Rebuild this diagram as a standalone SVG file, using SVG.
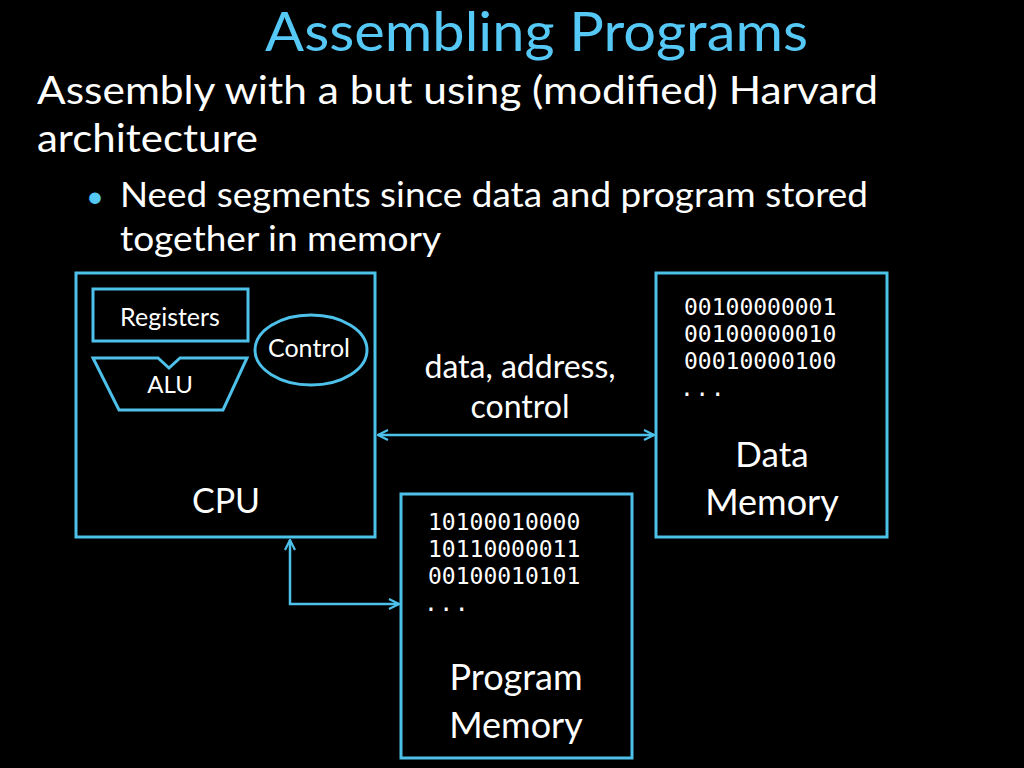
<svg xmlns="http://www.w3.org/2000/svg" width="1024" height="768" viewBox="0 0 1024 768">
<defs>
<style>
.t{font-family:Lato,"Open Sans","Liberation Sans",sans-serif;fill:#ffffff}
.m{font-family:"DejaVu Sans Mono","Liberation Mono",monospace;fill:#ffffff;font-size:23px}
.b{fill:none;stroke:#4DC1EA;stroke-width:3}
.c{fill:none;stroke:#4DC1EA;stroke-width:2.5}
</style>
<marker id="ah" viewBox="0 0 12 12" refX="11" refY="6" markerWidth="12" markerHeight="12" markerUnits="userSpaceOnUse" orient="auto-start-reverse">
<path d="M1,1 L11,6 L1,11" fill="none" stroke="#4DC1EA" stroke-width="2.2"/>
</marker>
</defs>
<rect width="1024" height="768" fill="#000"/>
<text x="265" y="51" textLength="543" lengthAdjust="spacingAndGlyphs" class="t" style="fill:#55C8F5;font-size:54px">Assembling Programs</text>
<text x="37" y="104" textLength="841" lengthAdjust="spacingAndGlyphs" class="t" style="font-size:39px">Assembly with a but using (modified) Harvard</text>
<text x="37" y="152" textLength="221" lengthAdjust="spacingAndGlyphs" class="t" style="font-size:39px">architecture</text>
<text x="86" y="207" class="t" style="font-size:31px;fill:#55C8F5">•</text>
<text x="120" y="207" textLength="748" lengthAdjust="spacingAndGlyphs" class="t" style="font-size:35px">Need segments since data and program stored</text>
<text x="120" y="251" textLength="321" lengthAdjust="spacingAndGlyphs" class="t" style="font-size:35px">together in memory</text>

<g id="cpu">
<rect class="b" x="76" y="273" width="299" height="264"/>
<text x="226" y="513" text-anchor="middle" class="t" style="font-size:34px">CPU</text>
</g>
<g id="registers">
<rect class="b" x="93" y="289" width="155" height="52"/>
<text x="170" y="326" text-anchor="middle" class="t" style="font-size:25px">Registers</text>
</g>
<g id="control">
<ellipse class="b" cx="311" cy="350" rx="56" ry="35"/>
<text x="309" y="357" text-anchor="middle" class="t" style="font-size:25px">Control</text>
</g>
<g id="alu">
<path class="b" d="M93,358 L158,358 L169,368 L180,358 L247,358 L223,410 L119,410 Z"/>
<text x="170" y="393" text-anchor="middle" class="t" style="font-size:24px">ALU</text>
</g>
<g id="data-memory">
<rect class="b" x="656" y="273" width="231" height="264"/>
<text x="684" y="315" class="m">00100000001</text>
<text x="684" y="342" class="m">00100000010</text>
<text x="684" y="369" class="m">00010000100</text>
<text x="680" y="396" class="m" style="letter-spacing:1.5px">...</text>
<text x="772" y="467" text-anchor="middle" class="t" style="font-size:35px">Data</text>
<text x="772" y="515" text-anchor="middle" class="t" style="font-size:36px">Memory</text>
</g>
<g id="program-memory">
<rect class="b" x="401" y="494" width="231" height="264"/>
<text x="428" y="530" class="m">10100010000</text>
<text x="428" y="557" class="m">10110000011</text>
<text x="428" y="584" class="m">00100010101</text>
<text x="424" y="611" class="m" style="letter-spacing:1.5px">...</text>
<text x="516" y="690" text-anchor="middle" class="t" style="font-size:36px">Program</text>
<text x="516" y="738" text-anchor="middle" class="t" style="font-size:36px">Memory</text>
</g>
<g id="connectors">
<line class="c" x1="378" y1="435" x2="654" y2="435" marker-start="url(#ah)" marker-end="url(#ah)"/>
<path class="c" d="M290,540 L290,604 L399,604" marker-start="url(#ah)" marker-end="url(#ah)"/>
<text x="520" y="378" text-anchor="middle" class="t" style="font-size:32px">data, address,</text>
<text x="520" y="418" text-anchor="middle" class="t" style="font-size:32px">control</text>
</g>
</svg>
